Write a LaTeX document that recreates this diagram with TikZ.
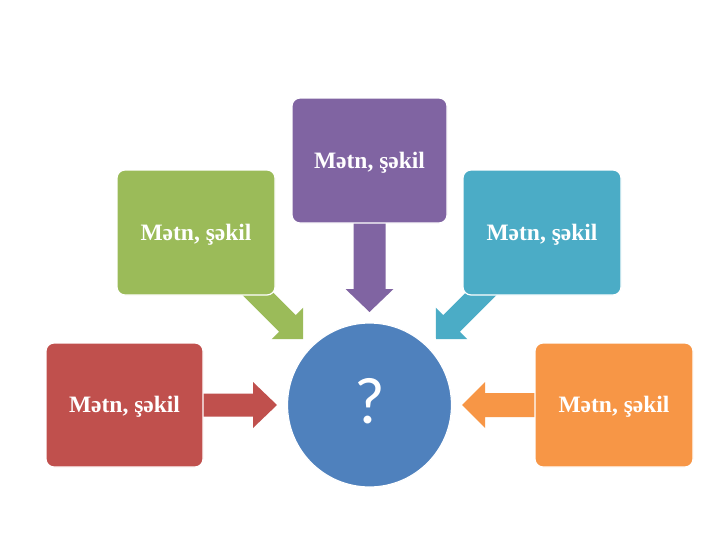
\documentclass[tikz,border=0pt]{standalone}
\usepackage{fontspec}
\setmainfont{Liberation Serif}
\newfontfamily\qfont{Carlito}
\definecolor{cred}{HTML}{C0504D}
\definecolor{cgreen}{HTML}{9BBB59}
\definecolor{cpurple}{HTML}{8064A2}
\definecolor{ccyan}{HTML}{4BACC6}
\definecolor{corange}{HTML}{F79646}
\definecolor{cblue}{HTML}{4F81BD}
\tikzset{
  box/.style={draw=white, line width=1.2pt, rounded corners=8pt},
  lbl/.style={text=white, font=\bfseries\fontsize{23.5}{26}\selectfont, anchor=base, inner sep=0pt},
}
\newcommand\blockarrow[7]{%
  \fill[#7, shift={(#1)}, rotate=#2] (0,0) -- (-#4,#6) -- (-#4,#5) -- (-#3,#5) -- (-#3,-#5) -- (-#4,-#5) -- (-#4,-#6) -- cycle;}
\begin{document}
\begin{tikzpicture}[x=1pt,y=-1pt]
\useasboundingbox[fill=white] (0,0) rectangle (728,546);
% arrow tips
\coordinate (tred) at (277,405);
\coordinate (torange) at (462,405);
\coordinate (tpurple) at (369.5,312);
\coordinate (tgreen) at (303,339);
\coordinate (tcyan) at (436,339);
% arrows (drawn under boxes)
\blockarrow{tred}{0}{80}{24}{11.5}{23}{cred}
\blockarrow{torange}{180}{80}{23}{12}{23}{corange}
\blockarrow{tpurple}{-90}{97}{23}{16}{24}{cpurple}
\blockarrow{tgreen}{-45}{90}{22}{11.7}{22.3}{cgreen}
\blockarrow{tcyan}{-135}{90}{22}{11.7}{22.3}{ccyan}
% boxes
\draw[box, fill=cred] (46,343) rectangle (203,467);
\draw[box, fill=corange] (535,343) rectangle (693,467);
\draw[box, fill=cgreen] (117,170) rectangle (275,295);
\draw[box, fill=ccyan] (463,170) rectangle (621,295);
\draw[box, fill=cpurple] (292,98) rectangle (447,223);
% centre circle
\draw[draw=white, line width=1.2pt, fill=cblue] (369.5,405) circle[radius=82];
\node (center) [text=white, anchor=base, inner sep=0pt, font=\qfont\fontsize{66}{70}\selectfont] at (369.5,423) {?};
% labels
\node (red) [lbl] at (124.5,412.5) {Mətn, şəkil};
\node (orange) [lbl] at (614,412.5) {Mətn, şəkil};
\node (green) [lbl] at (196,240) {Mətn, şəkil};
\node (cyan) [lbl] at (542,240) {Mətn, şəkil};
\node (purple) [lbl] at (369.5,168) {Mətn, şəkil};
\end{tikzpicture}
\end{document}
